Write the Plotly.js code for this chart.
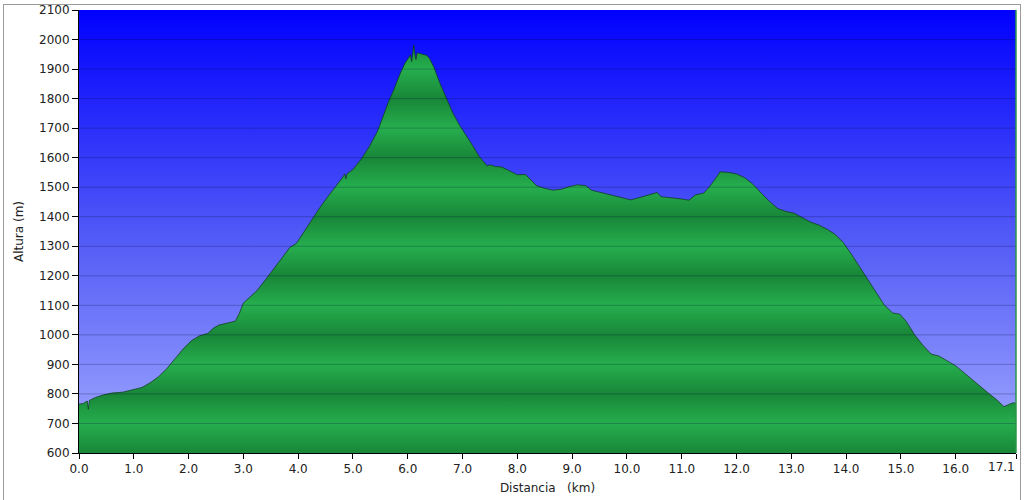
<!DOCTYPE html>
<html>
<head>
<meta charset="utf-8">
<script src="https://cdn.plot.ly/plotly-3.0.1.min.js"></script>
<style>
html,body{margin:0;padding:0;background:#ffffff;overflow:hidden;}
#chart{position:absolute;left:0;top:0;width:1024px;height:500px;}
#frame{position:absolute;left:3px;top:4px;width:1018px;height:520px;border:1px solid #9a9a9a;box-sizing:border-box;pointer-events:none;}
</style>
</head>
<body>
<div id="chart"></div>
<div id="frame"></div>
<script>
// Elevation profile (distance in km, altitude in m)
const distKm = [0.00,0.08,0.15,0.17,0.19,0.30,0.45,0.60,0.80,1.00,1.15,1.30,1.45,1.60,1.75,1.90,2.05,2.20,2.35,2.45,2.55,2.70,2.85,2.92,3.00,3.12,3.25,3.40,3.55,3.70,3.85,3.97,4.10,4.25,4.40,4.55,4.70,4.80,4.85,4.87,4.89,5.00,5.15,5.30,5.45,5.55,5.65,5.75,5.85,5.95,6.02,6.05,6.07,6.09,6.11,6.13,6.15,6.17,6.25,6.35,6.40,6.48,6.58,6.70,6.82,6.95,7.05,7.18,7.30,7.40,7.45,7.50,7.60,7.72,7.85,8.00,8.15,8.25,8.35,8.50,8.65,8.80,8.95,9.10,9.25,9.35,9.50,9.65,9.80,9.95,10.07,10.25,10.45,10.55,10.62,10.80,11.00,11.13,11.25,11.40,11.50,11.60,11.70,11.85,12.00,12.15,12.30,12.45,12.60,12.75,12.90,13.05,13.20,13.35,13.50,13.65,13.80,13.95,14.10,14.25,14.40,14.55,14.70,14.85,14.98,15.10,15.25,15.40,15.55,15.70,15.85,16.00,16.15,16.30,16.45,16.60,16.75,16.88,16.98,17.05,17.10];
const elevM  = [765,768,776,748,778,788,797,803,806,815,822,838,858,885,918,952,980,997,1005,1022,1033,1040,1046,1070,1108,1128,1150,1186,1222,1258,1296,1310,1348,1392,1432,1470,1505,1530,1545,1528,1545,1560,1595,1638,1690,1740,1790,1832,1880,1920,1942,1948,1925,1955,1982,1950,1932,1955,1950,1946,1935,1905,1855,1805,1752,1708,1680,1642,1605,1582,1572,1576,1570,1568,1555,1542,1543,1525,1505,1496,1490,1493,1502,1508,1505,1490,1483,1478,1470,1462,1457,1466,1475,1482,1468,1465,1460,1456,1474,1480,1500,1525,1552,1550,1545,1532,1510,1480,1452,1428,1418,1412,1398,1382,1372,1358,1340,1312,1272,1228,1185,1142,1100,1074,1070,1045,1000,965,935,928,912,895,872,848,825,802,780,757,765,770,768];

const xTickVals = [0,1,2,3,4,5,6,7,8,9,10,11,12,13,14,15,16,17.1];
const xTickLabels = xTickVals.map(v => v.toFixed(1));
const yTickVals = [600,700,800,900,1000,1100,1200,1300,1400,1500,1600,1700,1800,1900,2000,2100];

const yMin = yTickVals[0], yMax = yTickVals[yTickVals.length-1];
const xMax = xTickVals[xTickVals.length-1];
const lastIdx = xTickVals.length - 1;
// the end label is drawn right-aligned to its tick (as in the reference), so the axis leaves it blank
const xTickText = xTickLabels.map((t, i) => i === lastIdx ? '' : t);

// striped green fill: dark on even hundreds, light on odd hundreds
const darkG = 'rgb(24,134,56)', lightG = 'rgb(38,174,78)';
const stripeScale = yTickVals.map(v => [(v - yMin) / (yMax - yMin), (Math.round(v/100) % 2 === 0) ? darkG : lightG]);

const bgSvg = '<svg xmlns="http://www.w3.org/2000/svg" width="10" height="100" preserveAspectRatio="none">' +
  '<defs><linearGradient id="g" x1="0" y1="0" x2="0" y2="1">' +
  '<stop offset="0" stop-color="#0000ff"/><stop offset="0.5" stop-color="#5058f6"/><stop offset="1" stop-color="#a2aaff"/>' +
  '</linearGradient></defs><rect width="10" height="100" fill="url(#g)"/></svg>';

const font = {family: 'DejaVu Sans, Verdana, sans-serif', size: 12, color: '#222222'};

const gridShapes = yTickVals.filter(v => v > yMin && v < yMax).map(v => ({
  type: 'line', xref: 'paper', x0: 0, x1: 1, yref: 'y', y0: v, y1: v,
  line: {color: 'rgba(0,10,60,0.25)', width: 1}, layer: 'above'
}));
gridShapes.push({type: 'line', xref: 'paper', x0: 1, x1: 1, yref: 'paper', y0: 0, y1: 1,
  line: {color: 'rgb(40,150,70)', width: 1.5}, layer: 'above'});

const trace = {
  x: distKm, y: elevM, type: 'scatter', mode: 'lines',
  fill: 'tozeroy',
  fillgradient: {type: 'vertical', colorscale: stripeScale, start: yMin, stop: yMax},
  line: {color: 'rgba(15,60,25,0.75)', width: 1},
  hoverinfo: 'x+y', showlegend: false
};

const layout = {
  width: 1024, height: 500,
  margin: {l: 79, r: 8, t: 10, b: 47},
  paper_bgcolor: 'rgba(0,0,0,0)',
  plot_bgcolor: 'rgba(0,0,0,0)',
  font: font,
  images: [{
    source: 'data:image/svg+xml;base64,' + btoa(bgSvg),
    xref: 'paper', yref: 'paper', x: 0, y: 1, sizex: 1, sizey: 1,
    xanchor: 'left', yanchor: 'top', sizing: 'stretch', layer: 'below'
  }],
  annotations: [{
    text: xTickLabels[lastIdx], xref: 'x', x: xTickVals[lastIdx], xanchor: 'right',
    yref: 'paper', y: 0, yanchor: 'top', yshift: -5, xshift: 1,
    showarrow: false, font: font
  }],
  xaxis: {
    range: [0, xMax], tickvals: xTickVals, ticktext: xTickText,
    showgrid: false, zeroline: false, showline: true, linecolor: '#000', linewidth: 1,
    ticks: 'outside', ticklen: 5, tickcolor: '#000', tickfont: font,
    title: {text: 'Distancia\u00a0\u00a0\u00a0(km)', font: font, standoff: 8},
    fixedrange: true
  },
  yaxis: {
    range: [yMin, yMax], tickvals: yTickVals,
    showgrid: false, zeroline: false, showline: true, linecolor: '#000', linewidth: 1,
    ticks: 'outside', ticklen: 6, tickcolor: '#000', tickfont: font,
    ticklabeloverflow: 'allow',
    title: {text: 'Altura (m)', font: font, standoff: 12},
    fixedrange: true
  },
  shapes: gridShapes
};

Plotly.newPlot('chart', [trace], layout, {displayModeBar: false, staticPlot: true});
</script>
</body>
</html>
